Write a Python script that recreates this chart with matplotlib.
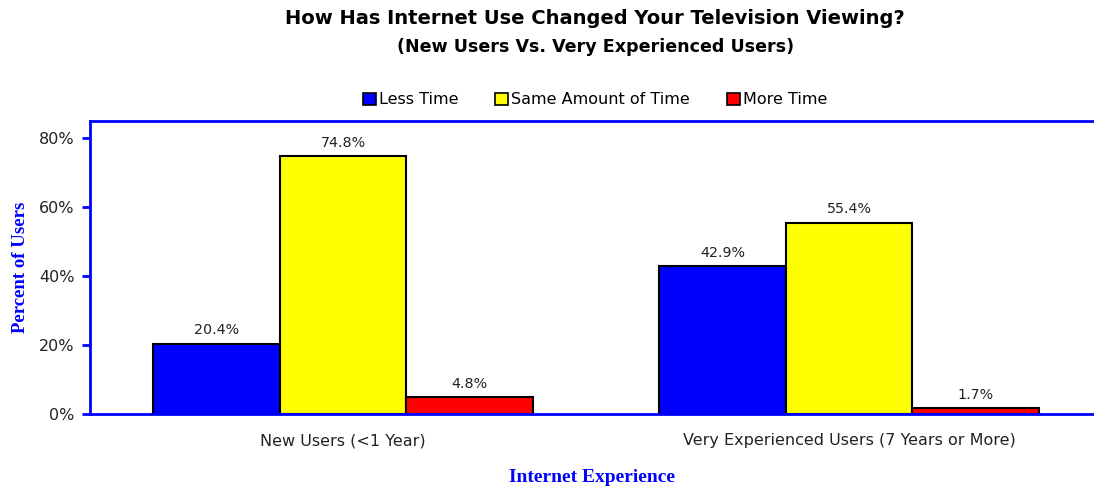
import numpy as np
import matplotlib.pyplot as plt
from matplotlib.patches import Patch

# Survey results, percent of users
groups = ["New Users (<1 Year)", "Very Experienced Users (7 Years or More)"]
series_names = ["Less Time", "Same Amount of Time", "More Time"]
less_time = [20.4, 42.9]
same_time = [74.8, 55.4]
more_time = [4.8, 1.7]
y_ticks = [0, 20, 40, 60, 80]

colors = ["#0000ff", "#ffff00", "#ff0000"]
spine_blue = "#0000ff"

fig = plt.figure(figsize=(10.94, 4.87), dpi=100)
ax = fig.add_axes([0.0823, 0.1499, 0.9177, 0.6016])

x = np.arange(len(groups))
width = 0.25
for i, (vals, color) in enumerate(zip([less_time, same_time, more_time], colors)):
    pos = x + (i - 1) * width
    ax.bar(pos, vals, width, color=color, edgecolor="black", linewidth=1.5, zorder=2)
    for px, v in zip(pos, vals):
        ax.text(px, v + 1.9, f"{v:.1f}%", ha="center", va="bottom",
                fontsize=10.3, color="#222222")

ax.set_xlim(-0.5, 1.484)
ax.set_ylim(0, 85)
ax.set_yticks(y_ticks)
ax.set_yticklabels([f"{t}%" for t in y_ticks], fontsize=11.5, color="#222222")
ax.set_xticks(x)
ax.set_xticklabels(groups, fontsize=11.5, color="#222222")
ax.tick_params(axis="x", length=0, pad=14)
ax.tick_params(axis="y", length=6, width=2, color=spine_blue, direction="out", pad=5)

for side in ["left", "top", "bottom"]:
    ax.spines[side].set_color(spine_blue)
    ax.spines[side].set_linewidth(2)
ax.spines["right"].set_visible(False)

ax.set_ylabel("Percent of Users", fontsize=13.5, fontweight="bold", color=spine_blue,
              family="Liberation Serif", labelpad=7)
ax.set_xlabel("Internet Experience", fontsize=14, fontweight="bold", color=spine_blue,
              family="Liberation Serif", labelpad=14.5)

fig.text(0.544, 0.962, "How Has Internet Use Changed Your Television Viewing?",
         ha="center", va="center", fontsize=14, fontweight="bold")
fig.text(0.544, 0.903, "(New Users Vs. Very Experienced Users)",
         ha="center", va="center", fontsize=12.6, fontweight="bold")

handles = [Patch(facecolor=c, edgecolor="black", linewidth=1.2) for c in colors]
fig.legend(handles, series_names, loc="center", bbox_to_anchor=(0.544, 0.795),
           ncol=3, frameon=False, fontsize=11.5, handlelength=0.8, handleheight=0.8,
           handletextpad=0.2, columnspacing=2.3)

fig.savefig("out.png", dpi=100)
